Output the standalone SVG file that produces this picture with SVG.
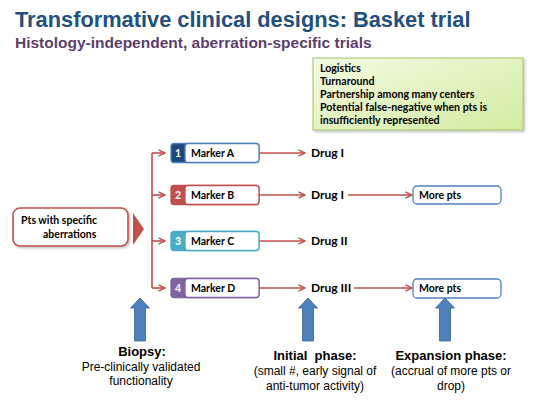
<svg xmlns="http://www.w3.org/2000/svg" width="539" height="402" viewBox="0 0 539 402">
<defs>
<linearGradient id="gg" x1="0" y1="0" x2="1" y2="1">
<stop offset="0" stop-color="#F3FAE4"/>
<stop offset="1" stop-color="#D3EBA0"/>
</linearGradient>
<marker id="ah" viewBox="0 0 8 8" refX="7.5" refY="4" markerWidth="8" markerHeight="8" markerUnits="userSpaceOnUse" orient="auto">
<path d="M1,0.8 L7.5,4 L1,7.2" fill="none" stroke="#C0504D" stroke-width="1.4"/>
</marker>
<filter id="sh" x="-10%" y="-10%" width="130%" height="140%">
<feDropShadow dx="1.5" dy="1.5" stdDeviation="1" flood-color="#000" flood-opacity="0.25"/>
</filter>
</defs>
<style>
.title{font-family:"Liberation Sans",Arial,sans-serif;font-weight:bold;font-size:21.8px;fill:#22507F}
.sub{font-family:"Liberation Sans",Arial,sans-serif;font-weight:bold;font-size:15.5px;fill:#5A3F6E}
.cb{font-family:Lato,"Liberation Sans",sans-serif;font-weight:bold;fill:#000}
.note{font-size:10.6px}
.mk{font-size:10.5px}
.num{font-family:Lato,"Liberation Sans",sans-serif;font-weight:bold;font-size:10.5px;fill:#fff;text-anchor:middle}
.drug{font-size:12px}
.cap{font-family:"Liberation Sans",Arial,sans-serif;font-size:12px;fill:#000;text-anchor:middle}
.capb{font-weight:bold;font-size:13px}
.red{stroke:#C0504D;stroke-width:1.6;fill:none}
.blue{fill:#4F81BD;stroke:#3A6294;stroke-width:0.8}
</style>
<text class="title" x="15" y="27">Transformative clinical designs: Basket trial</text>
<text class="sub" x="15" y="48">Histology-independent, aberration-specific trials</text>

<g id="notes">
<rect x="313" y="58" width="210" height="72" fill="url(#gg)" stroke="#A6C46A" stroke-width="1" filter="url(#sh)"/>
<text class="cb note" x="320" y="72">Logistics</text>
<text class="cb note" x="320" y="85">Turnaround</text>
<text class="cb note" x="320" y="98">Partnership among many centers</text>
<text class="cb note" x="320" y="111">Potential false-negative when pts is</text>
<text class="cb note" x="320" y="124">insufficiently represented</text>
</g>

<g id="pts">
<rect x="13" y="208" width="115" height="38" rx="7" fill="#fff" stroke="#C0504D" stroke-width="1.6" filter="url(#sh)"/>
<text class="cb mk" x="21" y="224">Pts with specific</text>
<text class="cb mk" x="43" y="238">aberrations</text>
<path d="M133,213 L144,229 L133,245 Z" fill="#C0504D"/>
</g>

<g id="connectors">
<path class="red" d="M152,153 V288"/>
<path class="red" d="M152,153 H165" marker-end="url(#ah)"/>
<path class="red" d="M152,195 H165" marker-end="url(#ah)"/>
<path class="red" d="M152,241 H165" marker-end="url(#ah)"/>
<path class="red" d="M152,288 H165" marker-end="url(#ah)"/>
<path class="red" d="M259,153 H305" marker-end="url(#ah)"/>
<path class="red" d="M259,195 H305" marker-end="url(#ah)"/>
<path class="red" d="M259,241 H305" marker-end="url(#ah)"/>
<path class="red" d="M259,288 H305" marker-end="url(#ah)"/>
<path class="red" d="M348,195 H412" marker-end="url(#ah)"/>
<path class="red" d="M354,288 H412" marker-end="url(#ah)"/>
</g>

<g id="markerA">
<rect x="171" y="143.5" width="88" height="19" rx="3" fill="#1F497D" stroke="#4F81BD" stroke-width="1.3"/>
<rect x="185" y="143.5" width="74" height="19" rx="3" fill="#fff" stroke="#4F81BD" stroke-width="1.3"/>
<text class="num" x="178" y="157">1</text>
<text class="cb mk" x="191" y="157">Marker A</text>
</g>
<g id="markerB">
<rect x="171" y="185.5" width="88" height="19" rx="3" fill="#C0504D" stroke="#C0504D" stroke-width="1.3"/>
<rect x="185" y="185.5" width="74" height="19" rx="3" fill="#fff" stroke="#C0504D" stroke-width="1.3"/>
<text class="num" x="178" y="199">2</text>
<text class="cb mk" x="191" y="199">Marker B</text>
</g>
<g id="markerC">
<rect x="171" y="231.5" width="88" height="19" rx="3" fill="#4BACC6" stroke="#4BACC6" stroke-width="1.3"/>
<rect x="185" y="231.5" width="74" height="19" rx="3" fill="#fff" stroke="#4BACC6" stroke-width="1.3"/>
<text class="num" x="178" y="245">3</text>
<text class="cb mk" x="191" y="245">Marker C</text>
</g>
<g id="markerD">
<rect x="171" y="278.5" width="88" height="19" rx="3" fill="#8064A2" stroke="#8064A2" stroke-width="1.3"/>
<rect x="185" y="278.5" width="74" height="19" rx="3" fill="#fff" stroke="#8064A2" stroke-width="1.3"/>
<text class="num" x="178" y="292">4</text>
<text class="cb mk" x="191" y="292">Marker D</text>
</g>

<g id="drugs">
<text class="cb drug" x="311" y="157">Drug I</text>
<text class="cb drug" x="311" y="199">Drug I</text>
<text class="cb drug" x="311" y="245">Drug II</text>
<text class="cb drug" x="311" y="292">Drug III</text>
</g>

<g id="morepts1">
<rect x="413" y="186" width="88" height="18" rx="4" fill="#fff" stroke="#4F81BD" stroke-width="1.3"/>
<text class="cb mk" x="419" y="199">More pts</text>
</g>
<g id="morepts2">
<rect x="413" y="279" width="88" height="19" rx="4" fill="#fff" stroke="#4F81BD" stroke-width="1.3"/>
<text class="cb mk" x="419" y="292">More pts</text>
</g>

<g id="arrows">
<path class="blue" d="M140,298 L149.5,308 L145.5,308 L145.5,341 L134.5,341 L134.5,308 L130.5,308 Z"/>
<path class="blue" d="M308,298 L317.5,308 L313.5,308 L313.5,341 L302.5,341 L302.5,308 L298.5,308 Z"/>
<path class="blue" d="M445,298 L454.5,308 L450.5,308 L450.5,341 L439.5,341 L439.5,308 L435.5,308 Z"/>
</g>

<g id="captions">
<text class="cap capb" x="142" y="356">Biopsy:</text>
<text class="cap" x="141" y="370.5">Pre-clinically validated</text>
<text class="cap" x="141" y="385">functionality</text>
<text class="cap capb" x="315" y="360" xml:space="preserve">Initial  phase:</text>
<text class="cap" x="315" y="375">(small #, early signal of</text>
<text class="cap" x="315" y="389.5">anti-tumor activity)</text>
<text class="cap capb" x="451" y="360">Expansion phase:</text>
<text class="cap" x="451" y="375">(accrual of more pts or</text>
<text class="cap" x="451" y="389.5">drop)</text>
</g>
</svg>
